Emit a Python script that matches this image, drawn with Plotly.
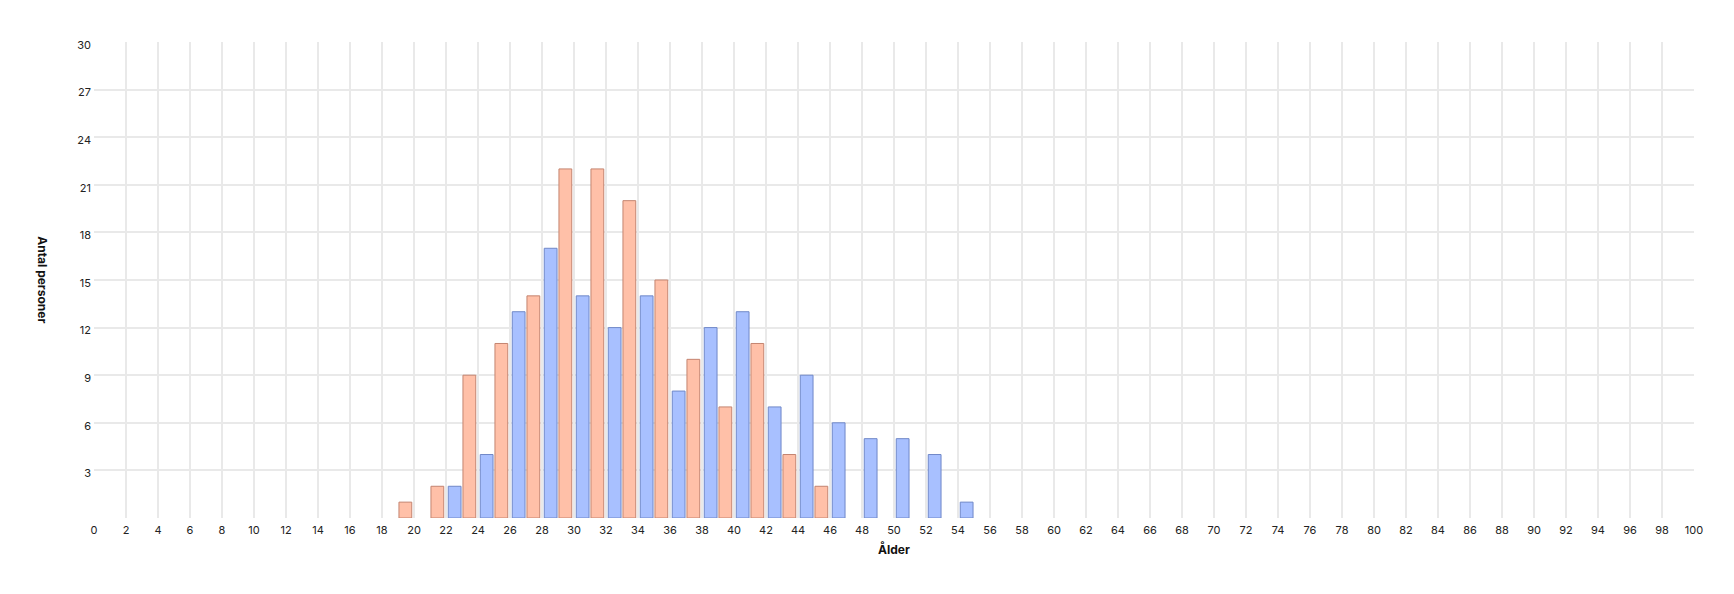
import plotly.graph_objects as go

# Data
orange_ages = [19, 21, 23, 25, 27, 29, 31, 33, 35, 37, 39, 41, 43, 45]
orange_counts = [1, 2, 9, 11, 14, 22, 22, 20, 15, 10, 7, 11, 4, 2]
blue_ages = [22, 24, 26, 28, 30, 32, 34, 36, 38, 40, 42, 44, 46, 48, 50, 52, 54]
blue_counts = [2, 4, 13, 17, 14, 12, 14, 8, 12, 13, 7, 9, 6, 5, 5, 4, 1]
x_ticks = list(range(0, 101, 2))
y_ticks = list(range(0, 31, 3))
y_ticktext = ["" if v == 0 else str(v) for v in y_ticks]

FONT = "Inter, 'Noto Sans', sans-serif"
GRID = "#e9e9e9"

fig = go.Figure()
fig.add_trace(go.Bar(
    x=orange_ages, y=orange_counts, width=0.8, offset=0.06,
    marker=dict(color="rgb(255,192,168)", line=dict(color="rgb(196,132,112)", width=1)),
    showlegend=False,
))
fig.add_trace(go.Bar(
    x=blue_ages, y=blue_counts, width=0.8, offset=0.14,
    marker=dict(color="rgb(168,192,255)", line=dict(color="rgb(112,136,200)", width=1)),
    showlegend=False,
))

fig.update_layout(
    width=1734, height=594,
    margin=dict(l=94, r=40, t=42, b=76),
    paper_bgcolor="white", plot_bgcolor="white",
    barmode="overlay",
    font=dict(family=FONT, size=11, color="#222"),
    xaxis=dict(
        range=[0, 100], tickvals=x_ticks, ticktext=[str(v) for v in x_ticks],
        showgrid=True, gridcolor=GRID, gridwidth=1.5,
        zeroline=False, showline=False, ticks="", ticklabelstandoff=4,
        title=dict(text="<b>Ålder</b>", font=dict(family=FONT, size=12, color="#111"), standoff=9),
        fixedrange=True,
    ),
    yaxis=dict(
        range=[0, 30], tickvals=y_ticks, ticktext=y_ticktext,
        showgrid=True, gridcolor=GRID, gridwidth=1.5,
        zeroline=False, showline=False, ticks="", ticklabelstandoff=2,
        ticklabelshift=3,
        fixedrange=True,
    ),
    annotations=[dict(
        text="<b>Antal personer</b>", textangle=90,
        xref="paper", yref="paper", x=-0.032, y=0.5,
        xanchor="center", yanchor="middle", showarrow=False,
        font=dict(family=FONT, size=12, color="#111"),
    )],
)

fig.write_html("out.html")
